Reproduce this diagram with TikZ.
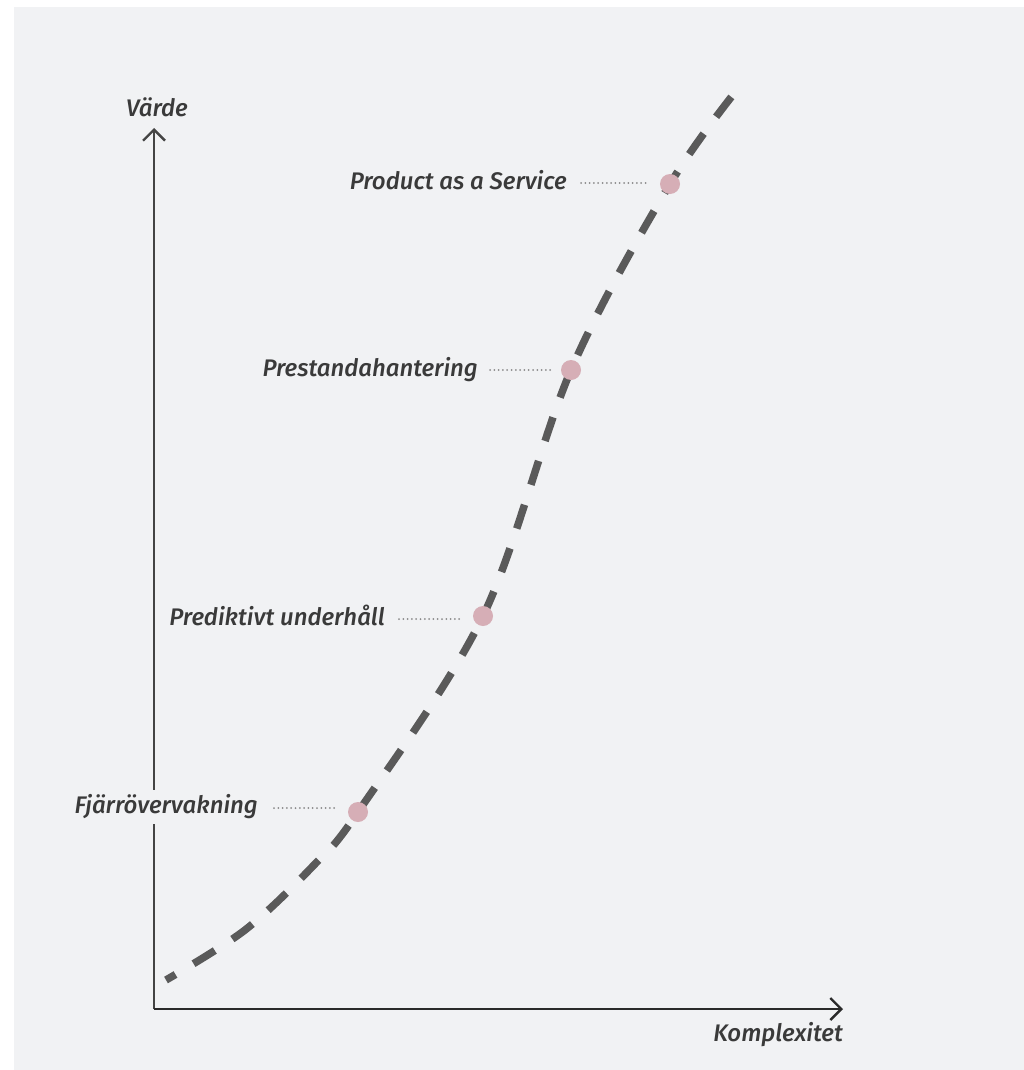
\documentclass[tikz,border=0pt]{standalone}
\usepackage{fontspec}
\setmainfont{Fira Sans}
\newfontfamily\labfont{Fira Sans Medium Italic}
\usetikzlibrary{arrows.meta,calc}
\definecolor{bg}{HTML}{F1F2F4}
\definecolor{ink}{HTML}{3A3A3A}
\definecolor{curvecol}{HTML}{5A5A5A}
\definecolor{dotcol}{HTML}{D6AEB6}
\definecolor{leadcol}{HTML}{8A8A8A}
\definecolor{yaxcol}{HTML}{444444}
\definecolor{xaxcol}{HTML}{2A2A2A}
\begin{document}
\begin{tikzpicture}[x=1pt,y=-1pt,
  lab/.style={font=\labfont\fontsize{24}{28}\selectfont, text=ink, inner sep=0pt},
  axis/.style={line width=2.4pt, -{Straight Barb[length=11pt,width=22pt,line width=2.4pt]}},
  curve/.style={draw=curvecol, line width=7.5pt, dash pattern=on 25pt off 21pt, dash phase=14pt},
  leader/.style={draw=leadcol, line width=2pt, line cap=round, dash pattern=on 0pt off 4.3pt},
  stage/.style={circle, fill=dotcol, minimum size=20pt, inner sep=0pt}]
\useasboundingbox (0,0) rectangle (1024,1070);
\fill[white] (0,0) rectangle (1024,1070);
\fill[bg] (14,7) rectangle (1024,1070);

% axes
\coordinate (o) at (154,1009);
\coordinate (ytop) at (154,128);
\coordinate (xend) at (843,1009);
\draw[axis, yaxcol] (o) -- (ytop);
\draw[axis, xaxcol] (o) -- (xend);
\node[lab] (vlab) at (157,107) {Värde};
\node[lab, anchor=base east] (hlab) at (843,1041) {Komplexitet};

% value curve
\draw[curve] plot[smooth, tension=0.55] coordinates
  {(166,980) (245,930) (313,866) (358,812) (483,616) (571,370) (670,184) (740,86)};

% stages on the curve
\node[stage] (d1) at (670,184) {};
\node[stage] (d2) at (571,370) {};
\node[stage] (d3) at (483,616) {};
\node[stage] (d4) at (358,812) {};

% stage labels
\node[lab, anchor=base east] (l1) at (567,189) {Product as a Service};
\node[lab, anchor=base east] (l2) at (478,376) {Prestandahantering};
\node[lab, anchor=base east] (l3) at (385,625) {Prediktivt underhåll};
\node[lab, anchor=base east, fill=bg, inner sep=5pt, text height=18pt, text depth=6pt] (l4) at (263,813) {Fjärrövervakning};

% dotted leaders
\coordinate (s1) at ($(l1.base east)+(14,-6)$);
\coordinate (s2) at ($(l2.base east)+(12,-6)$);
\coordinate (s3) at ($(l3.base east)+(14,-6)$);
\coordinate (s4) at ($(l4.base east)+(11,-5)$);
\draw[leader, shorten >=12pt] (s1) -- (s1 -| d1.west);
\draw[leader, shorten >=8pt] (s2) -- (s2 -| d2.west);
\draw[leader, shorten >=12pt] (s3) -- (s3 -| d3.west);
\draw[leader, shorten >=12pt] (s4) -- (s4 -| d4.west);
\end{tikzpicture}
\end{document}
